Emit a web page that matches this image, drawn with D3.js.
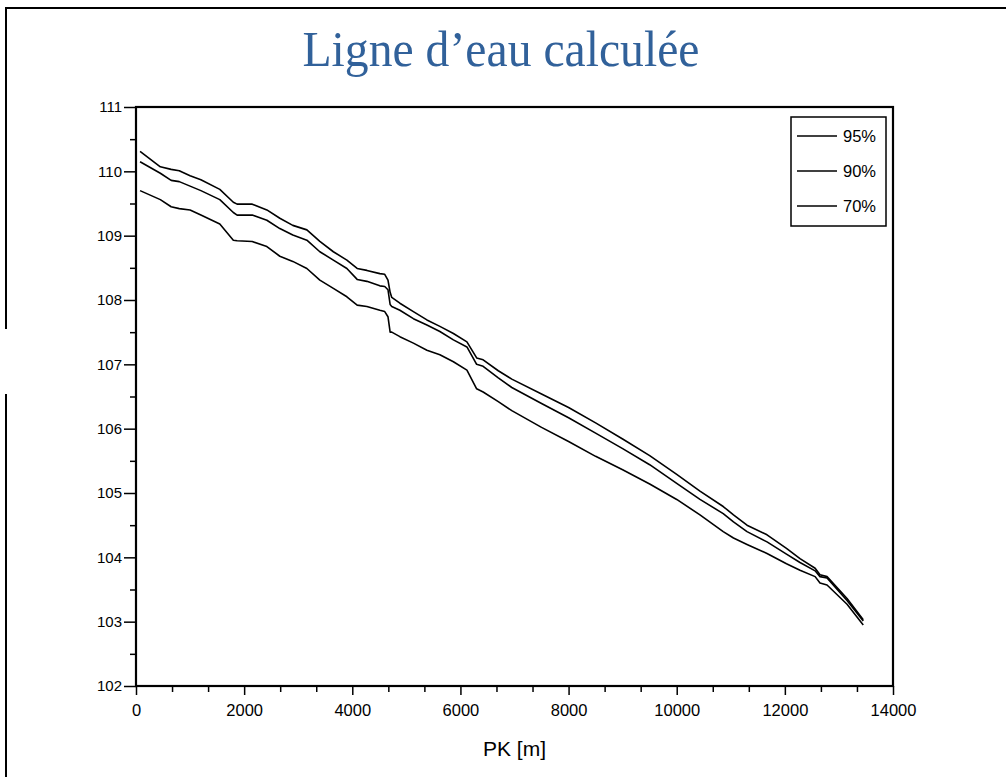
<!DOCTYPE html>
<html>
<head>
<meta charset="utf-8">
<script src="https://cdn.jsdelivr.net/npm/d3@7"></script>
<style>
  body { margin: 0; background: #fff; }
  svg { display: block; }
  .tick text { font-family: "Liberation Sans", Arial, sans-serif; fill: #000; }
</style>
</head>
<body>
<svg id="chart" width="1006" height="777"></svg>
<script>
// PK positions (m) shared by the three lines
const pk = [75, 450, 650, 800, 1000, 1200, 1550, 1800, 1870, 2150, 2420, 2660, 2900, 3160,
  3400, 3650, 3900, 4090, 4270, 4510, 4600, 4660, 4700, 4730, 4880, 5130, 5380, 5620, 5870,
  6120, 6300, 6420, 6700, 6950, 7500, 8000, 8500, 9000, 9500, 10000, 10430, 10860, 11050,
  11300, 11670, 12030, 12280, 12560, 12650, 12780, 13150, 13450];

const z95 = [110.31, 110.07, 110.03, 110.01, 109.93, 109.87, 109.72, 109.52, 109.49, 109.49,
  109.40, 109.27, 109.16, 109.09, 108.91, 108.75, 108.62, 108.49, 108.46, 108.41, 108.40,
  108.31, 108.12, 108.04, 107.95, 107.82, 107.69, 107.59, 107.48, 107.35, 107.10, 107.07,
  106.90, 106.77, 106.54, 106.33, 106.09, 105.84, 105.58, 105.29, 105.03, 104.79, 104.66,
  104.50, 104.35, 104.14, 103.98, 103.83, 103.73, 103.70, 103.36, 103.03];

const z90 = [110.15, 109.97, 109.86, 109.84, 109.77, 109.70, 109.56, 109.36, 109.32, 109.32,
  109.24, 109.11, 109.01, 108.93, 108.75, 108.62, 108.49, 108.32, 108.29, 108.22, 108.21,
  108.16, 107.93, 107.90, 107.84, 107.71, 107.61, 107.51, 107.38, 107.27, 107.00, 106.97,
  106.79, 106.64, 106.39, 106.17, 105.93, 105.69, 105.44, 105.15, 104.90, 104.68, 104.55,
  104.40, 104.24, 104.05, 103.92, 103.79, 103.70, 103.68, 103.33, 103.01];

const z70 = [109.70, 109.56, 109.45, 109.42, 109.40, 109.32, 109.18, 108.93, 108.92, 108.91,
  108.83, 108.68, 108.60, 108.49, 108.31, 108.18, 108.05, 107.92, 107.90, 107.84, 107.82,
  107.74, 107.50, 107.50, 107.43, 107.33, 107.22, 107.15, 107.04, 106.91, 106.62, 106.57,
  106.42, 106.28, 106.02, 105.80, 105.57, 105.36, 105.14, 104.90, 104.66, 104.40, 104.30,
  104.20, 104.06, 103.90, 103.80, 103.70, 103.60, 103.57, 103.27, 102.95];

const seriesNames = ['95%', '90%', '70%'];
const seriesValues = [z95, z90, z70];

const xTicks = [0, 2000, 4000, 6000, 8000, 10000, 12000, 14000];
const yTicks = [102, 103, 104, 105, 106, 107, 108, 109, 110, 111];

const titleText = 'Ligne d\u2019eau calculée';
const xLabel = 'PK [m]';

const padding = { top: 107, right: 113, bottom: 91, left: 136 };
const width = 1006;
const height = 777;
const plotWidth = width - padding.left - padding.right;
const plotHeight = height - padding.top - padding.bottom;

const svg = d3.select('#chart');

// outer frame (runs off the right and bottom edges)
svg.append('path')
  .attr('d', 'M6,777 L6,394 M6,329 L6,8 L1010,8')
  .attr('fill', 'none')
  .attr('stroke', '#000')
  .attr('stroke-width', 2);

svg.append('text')
  .attr('x', 501)
  .attr('y', 66)
  .attr('text-anchor', 'middle')
  .attr('font-family', '"Liberation Serif", "Times New Roman", serif')
  .attr('font-size', 50)
  .attr('textLength', 397)
  .attr('lengthAdjust', 'spacingAndGlyphs')
  .attr('fill', '#31619a')
  .text(titleText);

const xScale = d3.scaleLinear().domain([0, 14000]).range([0, plotWidth]);
const yScale = d3.scaleLinear().domain([102, 111]).range([plotHeight, 0]);

const g = svg.append('g').attr('transform', `translate(${padding.left} ${padding.top})`);

// minor ticks
const xMinor = d3.range(0, 21).map(i => i * 2000 / 3).filter((d, i) => i % 3 !== 0);
const yMinor = d3.range(102.5, 111, 1);

g.append('g')
  .attr('transform', `translate(0, ${plotHeight})`)
  .call(d3.axisBottom(xScale).tickValues(xMinor).tickSize(6).tickFormat(''))
  .call(s => s.select('.domain').remove())
  .selectAll('line').attr('stroke-width', 1.5);

g.append('g')
  .call(d3.axisLeft(yScale).tickValues(yMinor).tickSize(6).tickFormat(''))
  .call(s => s.select('.domain').remove())
  .selectAll('line').attr('stroke-width', 1.5);

// major ticks + labels
const xAxis = g.append('g')
  .attr('transform', `translate(0, ${plotHeight})`)
  .call(d3.axisBottom(xScale).tickValues(xTicks).tickSize(9).tickPadding(9).tickFormat(d3.format('d')));
xAxis.select('.domain').remove();
xAxis.selectAll('line').attr('stroke-width', 1.5);
xAxis.selectAll('text').attr('font-size', 16.5);

const yAxis = g.append('g')
  .call(d3.axisLeft(yScale).tickValues(yTicks).tickSize(12).tickPadding(2).tickFormat(d3.format('d')));
yAxis.select('.domain').remove();
yAxis.selectAll('line').attr('stroke-width', 1.5);
yAxis.selectAll('text').attr('font-size', 15);

// plot box
g.append('rect')
  .attr('width', plotWidth)
  .attr('height', plotHeight)
  .attr('fill', 'none')
  .attr('stroke', '#000')
  .attr('stroke-width', 2.2);

const lineGen = d3.line()
  .x((d, i) => xScale(pk[i]))
  .y(d => yScale(d));

g.selectAll('.line')
  .data(seriesValues)
  .enter()
  .append('path')
  .classed('line', true)
  .attr('d', d => lineGen(d))
  .attr('fill', 'none')
  .attr('stroke', '#000')
  .attr('stroke-width', 1.6)
  .attr('stroke-linejoin', 'round');

// legend
const legend = svg.append('g').attr('transform', 'translate(791 117)');
legend.append('rect')
  .attr('width', 95)
  .attr('height', 109)
  .attr('fill', '#fff')
  .attr('stroke', '#000')
  .attr('stroke-width', 1.5);

const items = legend.selectAll('.item')
  .data(seriesNames)
  .enter()
  .append('g')
  .attr('transform', (d, i) => `translate(0 ${19 + i * 35})`);
items.append('line')
  .attr('x1', 6).attr('x2', 46)
  .attr('stroke', '#000').attr('stroke-width', 1.6);
items.append('text')
  .attr('x', 52)
  .attr('y', 6)
  .attr('font-family', '"Liberation Sans", Arial, sans-serif')
  .attr('font-size', 16.5)
  .text(d => d);

svg.append('text')
  .attr('x', padding.left + plotWidth / 2)
  .attr('y', 756)
  .attr('text-anchor', 'middle')
  .attr('font-family', '"Liberation Sans", Arial, sans-serif')
  .attr('font-size', 21)
  .text(xLabel);
</script>
</body>
</html>
